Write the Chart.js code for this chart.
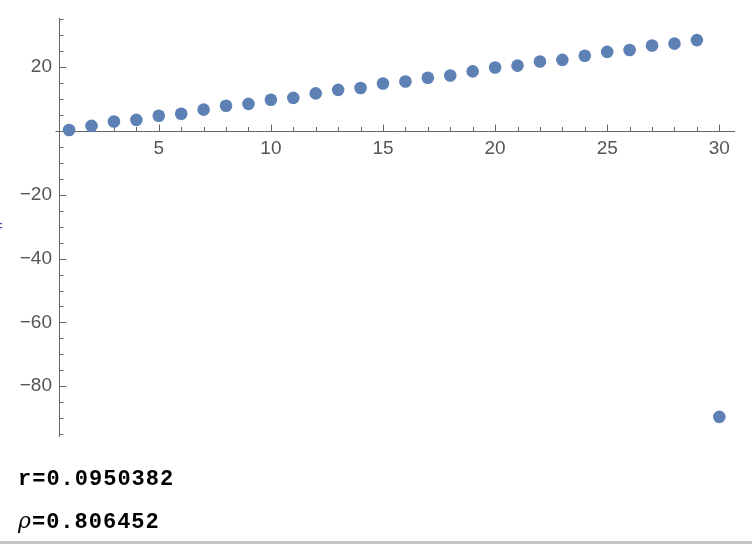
<!DOCTYPE html>
<html>
<head>
<meta charset="utf-8">
<script src="https://cdn.jsdelivr.net/npm/chart.js@4.4.1/dist/chart.umd.min.js"></script>
<style>
  html, body { margin: 0; padding: 0; background: #fff; }
  #wrap { position: relative; width: 752px; height: 544px; overflow: hidden; }
  #c { position: absolute; left: 0; top: 0; }
  .stat { position: absolute; left: 18px; font-family: "Liberation Mono", monospace; font-size: 22px; line-height: 22px; letter-spacing: 1px; color: #000; font-weight: bold; white-space: pre; }
  .stat i { font-family: "DejaVu Serif", serif; font-weight: normal; }
  #mark { position: absolute; left: -7px; top: 216px; font-family: "Liberation Sans", sans-serif; font-size: 17px; color: #3f51a0; }
  #rule { position: absolute; left: 0; top: 541px; width: 752px; height: 3px; background: #c4c4c4; }
</style>
</head>
<body>
<div id="wrap">
  <canvas id="c" width="752" height="544"></canvas>
  <div id="mark">=</div>
  <div class="stat" id="r1" style="top:469px">r=0.0950382</div>
  <div class="stat" id="r2" style="top:510px"><i>ρ</i>=0.806452</div>
  <div id="rule"></div>
</div>
<script>
// ---- data ----
const xValues = [1, 2, 3, 4, 5, 6, 7, 8, 9, 10, 11, 12, 13, 14, 15, 16, 17, 18, 19, 20, 21, 22, 23, 24, 25, 26, 27, 28, 29, 30];
const yValues = [0.3, 1.6, 3.0, 3.5, 4.8, 5.4, 6.7, 7.9, 8.5, 9.8, 10.4, 11.8, 12.9, 13.5, 14.9, 15.5, 16.7, 17.4, 18.7, 19.9, 20.5, 21.8, 22.3, 23.6, 24.8, 25.4, 26.8, 27.4, 28.5, -89.6];
const xTickLabels = [5, 10, 15, 20, 25, 30];
const yTickLabels = [-80, -60, -40, -20, 20];
const xMinorTicks = [1, 2, 3, 4, 6, 7, 8, 9, 11, 12, 13, 14, 16, 17, 18, 19, 21, 22, 23, 24, 26, 27, 28, 29];
const yMinorTicks = [-95, -90, -85, -75, -70, -65, -55, -50, -45, -35, -30, -25, -15, -10, -5, 5, 10, 15, 25, 30, 35];

const AXIS_COLOR = '#666666';
const LABEL_COLOR = '#555555';
const DOT_COLOR = '#5e81b5';

const tickMarks = {
  id: 'tickMarks',
  beforeDatasetsDraw(chart) {
    const ctx = chart.ctx;
    const xs = chart.scales.x, ys = chart.scales.y;
    const y0 = Math.round(ys.getPixelForValue(0)) + 0.5;
    const x0 = Math.round(xs.getPixelForValue(xs.min)) + 0.5;
    ctx.save();
    ctx.strokeStyle = AXIS_COLOR;
    ctx.lineWidth = 1;
    ctx.beginPath();
    // x axis line (slightly extended to the left as in the reference)
    ctx.moveTo(x0 - 4, y0);
    ctx.lineTo(xs.getPixelForValue(xs.max), y0);
    // x ticks (pointing up, into the plot)
    xTickLabels.forEach(v => { const p = Math.round(xs.getPixelForValue(v)) + 0.5; ctx.moveTo(p, y0); ctx.lineTo(p, y0 - 7); });
    xMinorTicks.forEach(v => { const p = Math.round(xs.getPixelForValue(v)) + 0.5; ctx.moveTo(p, y0); ctx.lineTo(p, y0 - 4.5); });
    // y ticks (pointing right)
    yTickLabels.forEach(v => { const p = Math.round(ys.getPixelForValue(v)) + 0.5; ctx.moveTo(x0, p); ctx.lineTo(x0 + 7, p); });
    yMinorTicks.forEach(v => { const p = Math.round(ys.getPixelForValue(v)) + 0.5; ctx.moveTo(x0, p); ctx.lineTo(x0 + 4, p); });
    ctx.stroke();
    ctx.restore();
  }
};

const fmt = v => (v < 0 ? '\u2212' + Math.abs(v) : String(v));

new Chart(document.getElementById('c'), {
  type: 'scatter',
  data: {
    datasets: [{
      data: xValues.map((x, i) => ({ x: x, y: yValues[i] })),
      backgroundColor: DOT_COLOR,
      borderColor: DOT_COLOR,
      borderWidth: 0,
      pointRadius: 6.3,
      pointHoverRadius: 6.3,
      clip: false
    }]
  },
  options: {
    responsive: false,
    animation: false,
    devicePixelRatio: 1,
    layout: { padding: { left: 0, right: 17, top: 17, bottom: 108 } },
    plugins: { legend: { display: false }, tooltip: { enabled: false } },
    scales: {
      x: {
        type: 'linear',
        min: 0.55,
        max: 30.7,
        position: { y: 0 },
        afterFit: s => { s.height = 0; },
        afterBuildTicks: s => { s.ticks = xTickLabels.map(v => ({ value: v })); },
        grid: { display: false, drawTicks: false },
        border: { display: false },
        ticks: {
          autoSkip: false, maxRotation: 0, padding: 6,
          color: LABEL_COLOR,
          font: { family: 'Liberation Sans', size: 19 },
          callback: v => fmt(v)
        }
      },
      y: {
        type: 'linear',
        min: -95.6,
        max: 35.3,
        position: 'left',
        afterFit: s => { s.width = 59; },
        afterBuildTicks: s => { s.ticks = yTickLabels.map(v => ({ value: v })); },
        grid: { display: false, drawTicks: false },
        border: { display: true, color: AXIS_COLOR, width: 1 },
        ticks: {
          padding: 7,
          color: LABEL_COLOR,
          font: { family: 'Liberation Sans', size: 19 },
          callback: v => fmt(v)
        }
      }
    }
  },
  plugins: [tickMarks]
});
</script>
</body>
</html>
